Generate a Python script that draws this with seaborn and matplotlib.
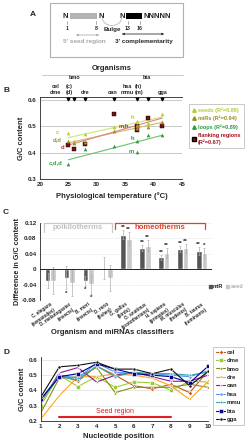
import numpy as np
import pandas as pd
import matplotlib
matplotlib.use("Agg")
import matplotlib.pyplot as plt
from matplotlib.patches import Rectangle, Arc, Patch
from matplotlib.lines import Line2D
from matplotlib.ticker import FuncFormatter
import seaborn as sns

sns.set_style("white")
plt.rcParams['font.family'] = ['Liberation Sans', 'DejaVu Sans']
plt.rcParams['font.weight'] = 'bold'
plt.rcParams['axes.labelweight'] = 'bold'
plt.rcParams['axes.linewidth'] = 0.6

# ---- panel B data (temperature vs G/C) ----
temps = [25, 26, 28, 33, 37, 37, 39, 41.5]
seeds_gc = [0.474, 0.443, 0.471, 0.497, 0.520, 0.505, 0.510, 0.545]
mirs_gc = [0.445, 0.437, 0.440, 0.482, 0.500, 0.493, 0.495, 0.514]
flank_gc = [0.428, 0.413, 0.432, 0.545, 0.500, 0.487, 0.532, 0.500]
loop_temps = [25, 28, 33, 37, 37, 39, 41.5]
loops_gc = [0.355, 0.415, 0.425, 0.443, 0.402, 0.468, 0.468]
# letters marking alternative temperatures
alt_text = ["c", "d,d", "d", "c,d,d", "h", "m,h", "h", "m"]
alt_temp = [23.0, 23.0, 24.0, 22.8, 36.3, 34.8, 36.3, 36.0]
alt_gc = [0.476, 0.448, 0.418, 0.360, 0.532, 0.502, 0.452, 0.404]
alt_col = ["#b5cf2a", "#9b8f1f", "#c0302a", "#2a9d3f", "#b5cf2a", "#c0302a", "#2a9d3f", "#2a9d3f"]
top_orgs = ["bmo", "bta", "cel", "(c)", "hsa", "(h)", "dme", "(d)", "dre", "oan", "mmu", "(m)", "gga"]
top_x = [26, 38.8, 22.8, 25.2, 35.3, 37.4, 22.8, 25.2, 28, 32.8, 35.3, 37.4, 41.5]
top_row = [0, 0, 1, 1, 1, 1, 2, 2, 2, 2, 2, 2, 2]
tick_temps = [25, 26, 28, 33, 37, 39, 41.5]

# ---- panel C data ----
organisms = ["C. elegans\n(nematodes)", "D. melanogaster\n(insects)", "B. mori\n(insects)",
             "D. rerio\n(fishes)", "G. gallus\n(birds)", "O. anatinus\n(prototherians)",
             "H. sapiens\n(primates)", "M. musculus\n(rodents)", "B. taurus\n(ruminants)"]
mir_diff = [-0.029, -0.022, -0.030, 0.003, 0.089, 0.055, 0.031, 0.052, 0.047]
seed_diff = [-0.029, -0.035, -0.039, -0.022, 0.079, 0.061, 0.042, 0.054, 0.042]
mir_err = [0.019, 0.030, 0.012, 0.028, 0.012, 0.008, 0.006, 0.007, 0.011]
seed_err = [0.035, 0.033, 0.024, 0.033, 0.016, 0.015, 0.012, 0.012, 0.014]
mir_sig = ["", "*", "*", "", "**", "**", "**", "**", "**"]
seed_sig = ["", "", "*", "", "**", "**", "**", "**", "*"]

# ---- panel D data ----
positions = list(range(1, 11))
org_codes = ["cel", "dme", "bmo", "dre", "oan", "hsa", "mmu", "bta", "gga"]
gc_cel = [0.33, 0.50, 0.46, 0.56, 0.50, 0.43, 0.41, 0.44, 0.385, 0.53]
gc_dme = [0.30, 0.50, 0.425, 0.49, 0.42, 0.455, 0.45, 0.40, 0.46, 0.455]
gc_bmo = [0.25, 0.48, 0.49, 0.55, 0.385, 0.42, 0.42, 0.42, 0.44, 0.42]
gc_dre = [0.21, 0.365, 0.49, 0.49, 0.51, 0.50, 0.48, 0.43, 0.34, 0.46]
gc_oan = [0.32, 0.515, 0.55, 0.455, 0.50, 0.52, 0.49, 0.46, 0.46, 0.50]
gc_hsa = [0.34, 0.50, 0.48, 0.58, 0.52, 0.51, 0.51, 0.50, 0.49, 0.53]
gc_mmu = [0.33, 0.49, 0.47, 0.56, 0.49, 0.52, 0.51, 0.51, 0.50, 0.52]
gc_bta = [0.34, 0.49, 0.51, 0.575, 0.54, 0.51, 0.50, 0.49, 0.45, 0.56]
gc_gga = [0.355, 0.555, 0.565, 0.585, 0.54, 0.54, 0.51, 0.54, 0.43, 0.525]
d_colors = ["#c0561c", "#9acd32", "#8b8b1a", "#ffa31a", "#8b1a8b", "#4f94ff", "#33a8a8", "#00008b", "#111111"]
d_markers = ["D", "s", "^", "v", "*", "o", "p", "s", "o"]

fig = plt.figure(figsize=(2.45, 4.40), dpi=100)

# overlay axes in pixel coordinates for the diagram and panel letters
ov = fig.add_axes([0, 0, 1, 1])
ov.set_xlim(0, 245)
ov.set_ylim(440, 0)
ov.axis('off')
ov.patch.set_alpha(0)

for lab, (x, y) in zip("ABCD", [(30, 14), (3, 90), (3, 213), (3, 352)]):
    ov.text(x, y, lab, fontsize=6, fontweight='bold', ha='left', va='center')

# panel A diagram
ov.add_patch(Rectangle((50, 3), 133, 54, fill=False, ec='#b0b0b0', lw=0.8))
ov.text(65, 16, "N", fontsize=5.5, ha='center', va='center')
ov.add_patch(Rectangle((70, 13.5), 27, 5.5, color='#b3b3b3', lw=0))
ov.text(101, 16, "N", fontsize=5.5, ha='center', va='center')
ov.add_patch(Arc((112, 18), 19, 15, theta1=0, theta2=180, color='#bbbbbb', lw=0.6))
ov.text(122, 16, "N", fontsize=5.5, ha='center', va='center')
ov.add_patch(Rectangle((126, 13.5), 16, 5.5, color='black', lw=0))
ov.text(143, 16, "NNNNN", fontsize=5.5, ha='left', va='center')
for x, t in [(67, "1"), (96, "8"), (128, "13"), (140, "16")]:
    ov.plot([x, x], [21, 24.5], color='#888888', lw=0.5)
    ov.text(x, 29, t, fontsize=3.8, ha='center', va='center')
ov.text(112, 29, "Bulge", fontsize=4.5, ha='center', va='center')
ov.annotate("", xy=(73, 35), xytext=(102, 35),
            arrowprops=dict(arrowstyle='<|-|>', color='#b0b0b0', lw=0.6, mutation_scale=3))
ov.text(84, 41, "5' seed region", fontsize=4.6, color='#a8a8a8', ha='center', va='center')
ov.annotate("", xy=(119, 34), xytext=(167, 34),
            arrowprops=dict(arrowstyle='<|-|>', color='#333333', lw=0.6, mutation_scale=3))
ov.text(144, 41, "3' complementarity", fontsize=4.6, ha='center', va='center')

# ---- panel B ----
axB = fig.add_axes([0.1633, 0.5932, 0.5796, 0.1864])
c_seed, c_mir, c_loop, c_flank = "#b5cf2a", "#9b8f1f", "#2a9d3f", "#7a1010"
for yv in [0.4, 0.5, 0.6]:
    axB.axhline(yv, color='#c0c0c0', lw=0.6, zorder=0)
sns.regplot(x=temps, y=seeds_gc, ax=axB, scatter=False, ci=None, truncate=True,
            line_kws=dict(color='#d4e27a', lw=0.8))
sns.regplot(x=temps, y=mirs_gc, ax=axB, scatter=False, ci=None, truncate=True,
            line_kws=dict(color='#c9bd6a', lw=0.8))
sns.regplot(x=loop_temps, y=loops_gc, ax=axB, scatter=False, ci=None, truncate=True,
            line_kws=dict(color='#6cc070', lw=0.8))
sns.regplot(x=temps, y=flank_gc, ax=axB, scatter=False, ci=None, truncate=True,
            line_kws=dict(color='#e08080', lw=0.8))
sns.scatterplot(x=temps, y=flank_gc, ax=axB, marker='s', s=6, color=c_flank, edgecolor='black', linewidth=0.3, zorder=3)
sns.scatterplot(x=temps, y=seeds_gc, ax=axB, marker='^', s=7, color=c_seed, linewidth=0, zorder=4)
sns.scatterplot(x=temps, y=mirs_gc, ax=axB, marker='^', s=7, color=c_mir, linewidth=0, zorder=4)
sns.scatterplot(x=loop_temps, y=loops_gc, ax=axB, marker='^', s=7, color=c_loop, linewidth=0, zorder=4)
for t, x, y, c in zip(alt_text, alt_temp, alt_gc, alt_col):
    axB.text(x, y, t, fontsize=4.2, color=c, ha='center', va='center')
axB.set_xlim(20, 45)
axB.set_ylim(0.3, 0.61)
axB.set_xticks([20, 25, 30, 35, 40, 45])
axB.set_yticks([0.3, 0.4, 0.5, 0.6])
axB.yaxis.set_major_formatter(FuncFormatter(lambda v, p: f"{v:.1f}"))
axB.tick_params(labelsize=4.5, length=1.5, width=0.5, pad=1)
for s in ['right']:
    axB.spines[s].set_visible(False)
axB.set_ylabel("G/C content", fontsize=5.5, labelpad=2)
fig.text(112 / 245, 1 - 196 / 440, "Physiological temperature (\u00b0C)", fontsize=5.5,
         fontweight='bold', ha='center', va='center')
tr = axB.get_xaxis_transform()
axB.scatter(tick_temps, [0.975] * len(tick_temps), marker='v', s=3, color='black',
            transform=tr, clip_on=False, zorder=5)
row_y = [1.232, 1.125, 1.058]
for lab, x, r in zip(top_orgs, top_x, top_row):
    axB.text(x, row_y[r], lab, fontsize=4.0, ha='center', va='center', transform=tr)
axB.plot([20.3, 45.2], [1.27, 1.27], color='#c0c0c0', lw=0.6, transform=tr, clip_on=False)
axB.text(32.7, 1.345, "Organisms", fontsize=5.5, ha='center', va='center', transform=tr)

b_handles = [Line2D([], [], marker='^', ls='', color=c_seed, ms=2.5),
             Line2D([], [], marker='^', ls='', color=c_mir, ms=2.5),
             Line2D([], [], marker='^', ls='', color=c_loop, ms=2.5),
             Line2D([], [], marker='s', ls='', color=c_flank, mec='black', ms=2.2)]
b_labels = ["seeds (R\u00b2=0.88)", "miRs (R\u00b2=0.94)", "loops (R\u00b2=0.89)",
            "flanking regions\n(R\u00b2=0.67)"]
legB = fig.legend(b_handles, b_labels, loc='center', bbox_to_anchor=(0.884, 0.714),
                  fontsize=4.0, frameon=True, handlelength=0.6, handletextpad=0.3,
                  labelspacing=0.55, borderpad=0.6, fancybox=False)
legB.get_frame().set_edgecolor('#b0b0b0')
legB.get_frame().set_linewidth(0.6)
for txt, c in zip(legB.get_texts(), [c_seed, c_mir, c_loop, "#a0141e"]):
    txt.set_color(c)

# ---- panel C ----
axC = fig.add_axes([0.1633, 0.3175, 0.702, 0.1764])
dfC = pd.DataFrame({
    "organism": organisms * 2,
    "diff": mir_diff + seed_diff,
    "kind": ["miR"] * len(organisms) + ["seed"] * len(organisms),
})
for yv in [0.04, 0.08, 0.12, -0.04]:
    axC.axhline(yv, color='#e6e6e6', lw=0.5, ls='--', zorder=0)
sns.barplot(data=dfC, x="organism", y="diff", hue="kind", palette=["#555555", "#c8c8c8"],
            width=0.6, errorbar=None, legend=False, ax=axC, zorder=2)
for cont, errs, sigs, vals in [(axC.containers[0], mir_err, mir_sig, mir_diff),
                               (axC.containers[1], seed_err, seed_sig, seed_diff)]:
    xs = [p.get_x() + p.get_width() / 2 for p in cont.patches]
    axC.errorbar(xs, vals, yerr=errs, fmt='none', ecolor='#b0b0b0', elinewidth=0.5,
                 capsize=0.8, capthick=0.5, zorder=3)
    for x, v, e, s in zip(xs, vals, errs, sigs):
        if not s:
            continue
        if v >= 0:
            axC.text(x, v + e, s, fontsize=4.5, ha='center', va='bottom')
        else:
            axC.text(x, v - e - 0.004, s, fontsize=4.5, ha='center', va='top')
axC.axhline(0, color='black', lw=0.6, zorder=4)
axC.set_xlim(-0.55, 8.55)
axC.set_ylim(-0.08, 0.12)
axC.set_yticks([-0.08, -0.04, 0, 0.04, 0.08, 0.12])
axC.yaxis.set_major_formatter(FuncFormatter(lambda v, p: "0" if abs(v) < 1e-9 else f"{v:.2f}"))
axC.tick_params(axis='y', labelsize=4.5, length=1.5, width=0.5, pad=1)
axC.tick_params(axis='x', labelsize=3.3, length=0, pad=1)
axC.set_xticks(range(len(organisms)))
axC.set_xticklabels(organisms, rotation=35, ha='right', rotation_mode='anchor')
for s in ['right', 'top', 'bottom']:
    axC.spines[s].set_visible(False)
axC.set_xlabel("")
axC.set_ylabel("Difference in G/C content", fontsize=5.2, labelpad=1)
# poikilotherm / homeotherm brackets
axC.plot([-0.35, -0.35, 3.25, 3.25], [0.095, 0.119, 0.119, 0.095], color='#c8c8c8', lw=0.9, clip_on=False)
axC.text(1.45, 0.108, "poikilotherms", fontsize=5.5, color='#c0c0c0', ha='center', va='center')
axC.plot([3.4, 3.4, 8.2, 8.2], [0.105, 0.119, 0.119, 0.105], color='#d9442b', lw=0.9, clip_on=False)
axC.text(5.8, 0.108, "homeotherms", fontsize=5.5, color='#d9442b', ha='center', va='center')
legC = fig.legend([Patch(color='#555555'), Patch(color='#c8c8c8')], ["miR", "seed"],
                  loc='center', bbox_to_anchor=(0.922, 0.348), ncol=2, fontsize=4,
                  frameon=False, handlelength=0.6, handleheight=0.6, columnspacing=0.5,
                  handletextpad=0.2)
legC.get_texts()[1].set_color('#b0b0b0')
fig.text(112 / 245, 1 - 332 / 440, "Organism and miRNAs classifiers", fontsize=5.5,
         fontweight='bold', ha='center', va='center')

# ---- panel D ----
axD = fig.add_axes([0.1661, 0.0439, 0.684, 0.1448])
gc_all = [gc_cel, gc_dme, gc_bmo, gc_dre, gc_oan, gc_hsa, gc_mmu, gc_bta, gc_gga]
dfD = pd.DataFrame({
    "pos": positions * len(org_codes),
    "gc": sum(gc_all, []),
    "org": [o for o in org_codes for _ in positions],
})
for yv in [0.3, 0.4, 0.5, 0.6]:
    axD.axhline(yv, color='#dddddd', lw=0.5, zorder=0)
sns.lineplot(data=dfD, x="pos", y="gc", hue="org", style="org", palette=d_colors,
             markers=d_markers, dashes=False, lw=0.8, markersize=2.2, markeredgewidth=0.4,
             ax=axD, legend=True)
handles, labels = axD.get_legend_handles_labels()
axD.get_legend().remove()
legD = fig.legend(handles, labels, loc='center', bbox_to_anchor=(0.933, 0.123), fontsize=4.3,
                  frameon=True, fancybox=False, handlelength=1.6, handletextpad=0.3,
                  labelspacing=0.55, borderpad=0.4)
legD.get_frame().set_edgecolor('#b0b0b0')
legD.get_frame().set_linewidth(0.6)
axD.plot([2, 8], [0.222, 0.222], color='#e02020', lw=1.5)
axD.text(5, 0.26, "Seed region", fontsize=5, color='#e02020', ha='center', va='center',
         fontweight='normal')
axD.set_xlim(1, 10)
axD.set_ylim(0.2, 0.62)
axD.set_xticks(positions)
axD.set_yticks([0.2, 0.3, 0.4, 0.5, 0.6])
axD.yaxis.set_major_formatter(FuncFormatter(lambda v, p: f"{v:.1f}"))
axD.tick_params(labelsize=4.5, length=1.5, width=0.5, pad=1)
for s in ['right', 'top']:
    axD.spines[s].set_visible(False)
axD.set_xlabel("")
axD.set_ylabel("G/C content", fontsize=5.5, labelpad=2)
fig.text(118 / 245, 1 - 436 / 440, "Nucleotide position", fontsize=5.5,
         fontweight='bold', ha='center', va='center')

fig.savefig("out.png", dpi=100)
